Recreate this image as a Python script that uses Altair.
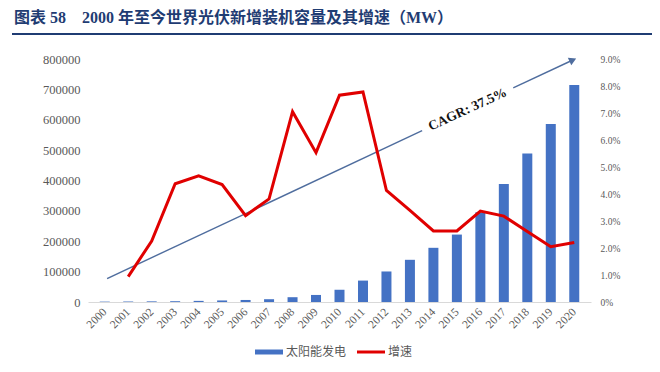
import altair as alt
import pandas as pd

# ---- data ----
years = list(range(2000, 2021))
capacity = [1250, 1600, 2100, 2600, 3700, 5100, 6700, 9200, 15800, 23200, 40300,
            70500, 100500, 138900, 178400, 222000, 295800, 388600, 488700, 586400, 714000]
growth_years = list(range(2001, 2021))
growth = [0.94, 2.26, 4.38, 4.67, 4.35, 3.20, 3.82, 7.05, 5.53, 7.66, 7.78,
          4.13, 3.39, 2.63, 2.63, 3.37, 3.18, 2.61, 2.05, 2.20]

# CAGR arrow annotation (in data units: year, MW)
arrow_seg = ["a", "a", "b", "b"]
arrow_x = [2000.1, 2013.52, 2017.4, 2019.94]
arrow_y = [77200, 563900, 704600, 796700]
cagr_label = "CAGR: 37.5%"
cagr_x = [2015.46]
cagr_y = [634200]

title_text = "图表 58\u00a0\u00a0\u00a0\u00a02000 年至今世界光伏新增装机容量及其增速（MW）"
legend_labels = ["太阳能发电", "增速"]

BLUE = "#4472C4"
RED = "#E00000"
ARROW = "#4F6D9E"
GRAY = "#595959"
NAVY = "#1F3C73"
SERIF = "'Liberation Serif', 'Noto Sans CJK SC', serif"
CJK = "'Noto Sans CJK SC', sans-serif"

xdom = [1999.5, 2020.5]
ydom = [0, 800000]

bars_df = pd.DataFrame({"year": years, "cap": capacity})
line_df = pd.DataFrame({"year": growth_years, "g": growth})
arrow_df = pd.DataFrame({"seg": arrow_seg, "year": arrow_x, "cap": arrow_y})
head_df = pd.DataFrame({"year": arrow_x[-1:], "cap": arrow_y[-1:]})
cagr_df = pd.DataFrame({"year": cagr_x, "cap": cagr_y, "t": [cagr_label]})
one = pd.DataFrame({"k": [0]})

xaxis = alt.Axis(values=years, format="d", labelAngle=315, labelAlign="right",
                 labelBaseline="middle", labelFontSize=11.5,
                 labelFont=SERIF, labelColor=GRAY, labelPadding=8, ticks=False,
                 domain=True, domainColor="#D9D9D9", domainWidth=1, grid=False,
                 title=None, labelOverlap=False)
yaxis = alt.Axis(values=list(range(0, 800001, 100000)), format="d",
                 labelFont=SERIF, labelFontSize=12.5, labelColor=GRAY,
                 ticks=False, domain=False, grid=False, labelPadding=8,
                 title=None)


def X():
    return alt.X("year:Q", scale=alt.Scale(domain=xdom, nice=False, zero=False), axis=xaxis)


def Y():
    return alt.Y("cap:Q", scale=alt.Scale(domain=ydom, nice=False), axis=yaxis)


bars = alt.Chart(bars_df).mark_bar(size=10, color=BLUE).encode(x=X(), y=Y())

arrow_line = alt.Chart(arrow_df).mark_line(color=ARROW, strokeWidth=1.4).encode(
    x=X(), y=Y(), detail="seg:N")
arrow_head = alt.Chart(head_df).mark_point(shape="triangle-right", filled=True, size=70,
                                           angle=335.3, color=ARROW, opacity=1).encode(
    x=X(), y=Y())
cagr_text = alt.Chart(cagr_df).mark_text(angle=335.3, font=SERIF, fontSize=13.5,
                                         fontWeight="bold", color="#111111",
                                         align="center", baseline="middle").encode(
    x=X(), y=Y(), text="t:N")

title = alt.Chart(one).mark_text(align="left", baseline="middle", font=SERIF,
                                 fontSize=16, fontWeight="bold", color=NAVY).encode(
    x=alt.value(-74), y=alt.value(-41), text=alt.value(title_text))
underline = alt.Chart(one).mark_rule(color=NAVY, strokeWidth=2).encode(
    x=alt.value(-76), x2=alt.value(600), y=alt.value(-25))

leg_blue = alt.Chart(one).mark_rule(color=BLUE, strokeWidth=5).encode(
    x=alt.value(167), x2=alt.value(195), y=alt.value(293))
leg_blue_t = alt.Chart(one).mark_text(align="left", baseline="middle", font=CJK,
                                      fontSize=12, color=GRAY).encode(
    x=alt.value(198), y=alt.value(293), text=alt.value(legend_labels[0]))
leg_red = alt.Chart(one).mark_rule(color=RED, strokeWidth=3).encode(
    x=alt.value(269), x2=alt.value(297), y=alt.value(293))
leg_red_t = alt.Chart(one).mark_text(align="left", baseline="middle", font=CJK,
                                     fontSize=12, color=GRAY).encode(
    x=alt.value(300), y=alt.value(293), text=alt.value(legend_labels[1]))

inner = alt.layer(bars, arrow_line, arrow_head, cagr_text, title, underline,
                  leg_blue, leg_blue_t, leg_red, leg_red_t)

line = alt.Chart(line_df).mark_line(color=RED, strokeWidth=3).encode(
    x=X(),
    y=alt.Y("g:Q", scale=alt.Scale(domain=[0, 9], nice=False),
            axis=alt.Axis(orient="right", values=list(range(10)),
                          labelExpr="datum.value == 0 ? '0%' : format(datum.value, '.1f') + '%'",
                          labelFont=SERIF, labelFontSize=9.5, labelColor=GRAY,
                          ticks=False, domain=False, grid=False, labelPadding=9,
                          title=None)),
)

chart = alt.layer(inner, line).resolve_scale(y="independent").properties(
    width=503, height=243,
    autosize=alt.AutoSizeParams(type="none"),
    padding={"left": 80, "top": 51, "right": 61, "bottom": 62},
    background="white",
).configure_view(stroke=None)

chart.save("out.html", embed_options={"renderer": "svg", "actions": False})
